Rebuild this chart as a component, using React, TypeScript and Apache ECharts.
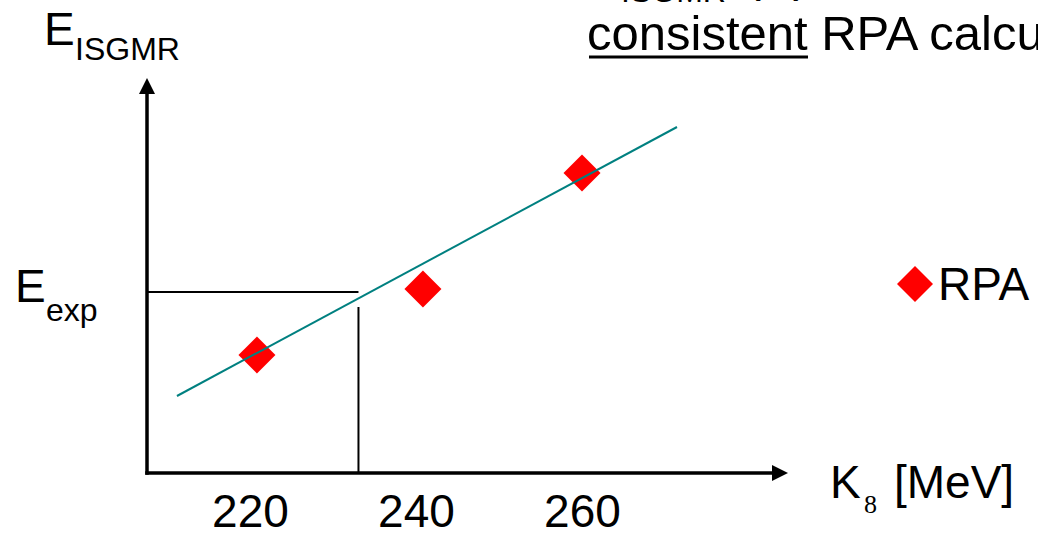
import { useEffect, useRef } from "react";
import * as echarts from "echarts";

// Axis ranges (incompressibility K in MeV, monopole energy in MeV)
const kRange = [207.53, 283.8];
const eRange = [13.0, 14.548];
const kTicks = [220, 240, 260];

// Self-consistent RPA results
const rpaK = [220.78, 240.78, 259.94];
const rpaE = [13.472, 13.736, 14.2];

// Linear fit through the RPA points
const fitK = [211.14, 271.39];
const fitE = [13.308, 14.384];

// Experimental energy and the K it maps to
const eExp = 13.724;
const kAtExp = 233.01;
const dropTopE = 13.664;

const SANS = "'Liberation Sans', Arial, Helvetica, sans-serif";
const SERIF = "'Liberation Serif', 'Times New Roman', serif";

// Text placed by its alphabetic baseline (SVG text uses a central baseline)
function label(text: string, x: number, baseline: number, size: number, family = SANS) {
  const shift = family === SERIF ? 0.3375 : 0.3465;
  return {
    type: "text",
    x,
    y: baseline - shift * size,
    silent: true,
    style: {
      text,
      fontSize: size,
      fontFamily: family,
      fill: "#000",
      align: "left",
      verticalAlign: "middle",
    },
  };
}

export default function App() {
  const ref = useRef<HTMLDivElement>(null);

  useEffect(() => {
    if (!ref.current) return;
    const chart = echarts.init(ref.current, undefined, { renderer: "svg" });

    const axisLine = {
      onZero: false,
      symbol: ["none", "triangle"],
      symbolSize: [16, 16],
      lineStyle: { color: "#000", width: 3.5, cap: "square" },
    };

    chart.setOption({
      animation: false,
      backgroundColor: "#fff",
      textStyle: { fontFamily: SANS },
      grid: { left: 147, top: 86, right: 258, bottom: 60, outerBoundsMode: "none" },
      xAxis: {
        type: "value",
        min: kRange[0],
        max: kRange[1],
        axisLine,
        axisTick: { show: false },
        splitLine: { show: false },
        axisLabel: {
          customValues: kTicks,
          fontSize: 46,
          color: "#000",
          margin: 15,
          fontFamily: SANS,
        },
      },
      yAxis: {
        type: "value",
        min: eRange[0],
        max: eRange[1],
        axisLine,
        axisTick: { show: false },
        splitLine: { show: false },
        axisLabel: { show: false },
      },
      legend: {
        data: [{ name: "RPA", icon: "diamond" }],
        left: 897,
        top: 261,
        padding: 0,
        itemWidth: 36,
        itemHeight: 36,
        selectedMode: false,
        textStyle: { fontSize: 46, color: "#000", fontFamily: SANS, padding: [0, 0, 11, 0] },
      },
      series: [
        {
          name: "E_exp level",
          type: "line",
          data: [
            [kRange[0], eExp],
            [kAtExp, eExp],
          ],
          symbol: "none",
          silent: true,
          lineStyle: { color: "#000", width: 2 },
          z: 1,
        },
        {
          name: "K from E_exp",
          type: "line",
          data: [
            [kAtExp, eRange[0]],
            [kAtExp, dropTopE],
          ],
          symbol: "none",
          silent: true,
          lineStyle: { color: "#000", width: 2 },
          z: 1,
        },
        {
          name: "RPA",
          type: "scatter",
          data: rpaK.map((k, i) => [k, rpaE[i]]),
          symbol: "diamond",
          symbolSize: 37,
          itemStyle: { color: "#ff0000", opacity: 1 },
          z: 2,
        },
        {
          name: "fit",
          type: "line",
          data: fitK.map((k, i) => [k, fitE[i]]),
          symbol: "none",
          silent: true,
          lineStyle: { color: "#008080", width: 2 },
          z: 3,
        },
      ],
    });

    const yExp = chart.convertToPixel({ gridIndex: 0 }, [kRange[0], eExp])[1];

    chart.setOption({
      graphic: [
        // heading (first line runs off the top edge)
        label("ISGMR", 621, 2, 32),
        label("(K)", 745, -9, 48),
        label("consistent RPA calculations", 587, 50, 49),
        { type: "rect", silent: true, shape: { x: 589, y: 55.5, width: 219, height: 3 }, style: { fill: "#000" } },
        // y-axis title
        label("E", 44, 45, 46),
        label("ISGMR", 75, 60, 32),
        // experimental level marker
        label("E", 15, yExp + 10, 46),
        label("exp", 46, yExp + 29, 32),
        // x-axis title
        label("K", 830, 498, 46),
        label("8", 864, 513, 26, SERIF),
        label("[MeV]", 894, 498, 46),
      ],
    });

    return () => chart.dispose();
  }, []);

  return (
    <div
      ref={ref}
      style={{ position: "fixed", left: 0, top: 0, width: 1038, height: 533, background: "#fff" }}
    />
  );
}
